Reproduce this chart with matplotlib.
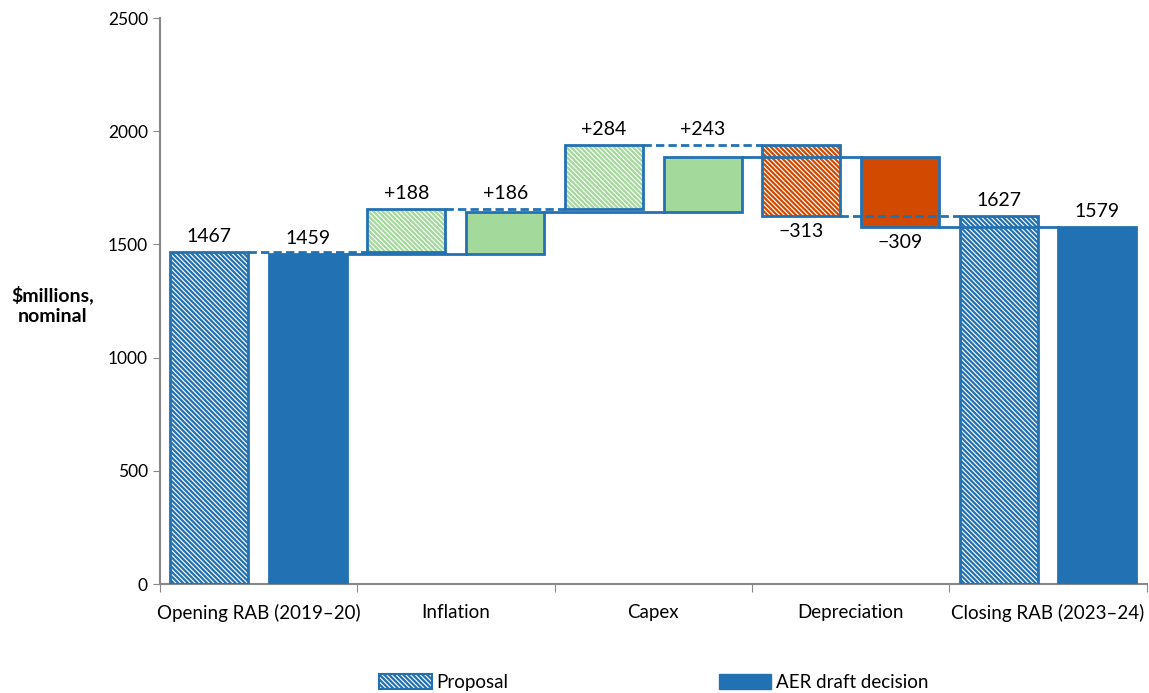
import matplotlib.pyplot as plt
import matplotlib.patches as mpatches
import numpy as np

plt.rcParams['font.family'] = ['Lato', 'DejaVu Sans']
plt.rcParams['hatch.linewidth'] = 1.6

# data
categories = ['Opening RAB (2019\u201320)', 'Inflation', 'Capex', 'Depreciation', 'Closing RAB (2023\u201324)']
proposal = [1467, 188, 284, -313, 1627]
aer = [1459, 186, 243, -309, 1579]

blue = '#2271b3'
green = '#a3d99b'
red = '#d24a00'
HATCH = '\\' * 7

fig = plt.figure(figsize=(11.49, 6.93), dpi=100)
ax = fig.add_axes([0.139, 0.157, 0.859, 0.817])

off = 0.25
w = 0.395

# running totals for both series (used for connectors and label heights)
def totals(vals):
    out = []
    run = 0
    for i, v in enumerate(vals):
        if i == 0 or i == len(vals) - 1:
            run = v
        else:
            run = run + v
        out.append(run)
    return out

prop_tot = totals(proposal)
aer_tot = totals(aer)

def draw_series(vals, dx, hatched, tops, other_tops):
    x = np.arange(len(vals)) + dx
    for i, v in enumerate(vals):
        if i == 0 or i == len(vals) - 1:
            bottom, height = 0, v
            col = blue
        else:
            prev = tops[i - 1]
            if v >= 0:
                bottom, height = prev, v
                col = green
            else:
                bottom, height = prev + v, -v
                col = red
        if hatched:
            ax.bar(x[i], height, w, bottom=bottom, color='white', edgecolor=col,
                   hatch=HATCH, linewidth=0, zorder=2)
            ax.bar(x[i], height, w, bottom=bottom, fill=False, edgecolor=blue,
                   linewidth=2, zorder=3)
        else:
            ax.bar(x[i], height, w, bottom=bottom, color=col, edgecolor=blue,
                   linewidth=2, zorder=3)
        # labels
        if i == 0 or i == len(vals) - 1:
            txt = str(v)
        elif v >= 0:
            txt = '+%d' % v
        else:
            txt = '\u2212%d' % (-v)
        if v >= 0:
            ytop = bottom + height
            if 0 < i < len(vals) - 1:
                ytop = max(ytop, other_tops[i])
            ax.annotate(txt, (x[i], ytop), xytext=(0, 5), textcoords='offset points',
                        ha='center', va='bottom', fontsize=14)
        else:
            ax.annotate(txt, (x[i], bottom), xytext=(0, -5), textcoords='offset points',
                        ha='center', va='top', fontsize=14)
    # connectors
    ls = (0, (3, 1.5)) if hatched else '-'
    for i in range(len(vals) - 1):
        ax.plot([x[i] + w / 2, x[i + 1] - w / 2], [tops[i], tops[i]], color=blue,
                linewidth=2, linestyle=ls, zorder=4)

draw_series(proposal, -off, True, prop_tot, aer_tot)
draw_series(aer, off, False, aer_tot, prop_tot)

ax.set_xlim(-0.5, 4.5)
ax.set_ylim(0, 2500)
ax.set_yticks(np.arange(0, 2501, 500))
ax.set_xticks(np.arange(-0.5, 5.0, 1))
ax.set_xticklabels([])
ax.set_xticks(np.arange(5), minor=True)
ax.set_xticklabels(categories, minor=True)
ax.tick_params(axis='x', which='minor', length=0, pad=14, labelsize=13.5)
ax.tick_params(axis='x', which='major', length=6, color='#888888')
ax.tick_params(axis='y', length=5, color='#888888', labelsize=12.5)
for s in ['top', 'right']:
    ax.spines[s].set_visible(False)
for s in ['left', 'bottom']:
    ax.spines[s].set_color('#888888')
    ax.spines[s].set_linewidth(1.5)

fig.text(0.046, 0.56, '$millions,\nnominal', ha='center', va='center',
         fontsize=14, fontweight='bold', linespacing=1.25)

h1 = mpatches.Patch(facecolor='white', edgecolor=blue, hatch=HATCH, linewidth=1.5)
h2 = mpatches.Patch(facecolor=blue, edgecolor=blue)
fig.legend([h1, h2], ['Proposal', 'AER draft decision'], loc='center',
           bbox_to_anchor=(0.569, 0.015), ncol=2, frameon=False, fontsize=13.5,
           handlelength=2.8, handleheight=0.8, columnspacing=11.2, handletextpad=0.25)

fig.savefig('out.png', dpi=100)
